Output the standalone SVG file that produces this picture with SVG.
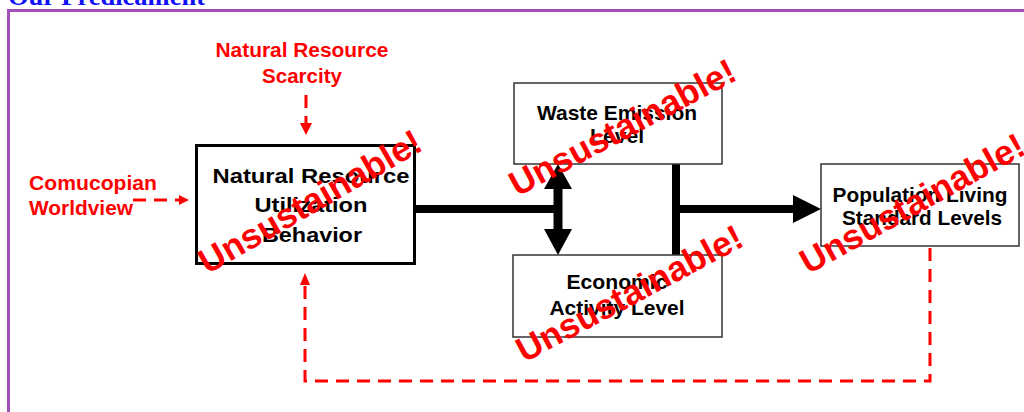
<svg xmlns="http://www.w3.org/2000/svg" width="1024" height="412" viewBox="0 0 1024 412">
<defs>
<style>
.box{fill:#fff;stroke:#333;stroke-width:1.5}
.lbl{font-family:"Liberation Sans",Arial,sans-serif;font-weight:bold;font-size:21px;fill:#000;text-anchor:middle}
.red{font-family:"Liberation Sans",Arial,sans-serif;font-weight:bold;font-size:20px;fill:#ff0000}
.uns{font-family:"Liberation Sans",Arial,sans-serif;font-weight:bold;font-size:35px;fill:#ff0000;text-anchor:middle}
.dash{fill:none;stroke:#ff0000;stroke-width:3;stroke-dasharray:13 8}
.thick{stroke:#000;fill:none}
</style>
</defs>
<rect width="1024" height="412" fill="#fff"/>
<text x="8" y="5" font-family="'Liberation Serif',serif" font-weight="bold" font-size="26" fill="#1010ff" textLength="197" lengthAdjust="spacingAndGlyphs">Our Predicament</text>
<rect x="8.5" y="10.5" width="1030" height="420" fill="none" stroke="#a050b8" stroke-width="3"/>

<g id="connectors">
<line class="thick" x1="415" y1="209" x2="559" y2="209" stroke-width="8"/>
<line class="thick" x1="558" y1="186" x2="558" y2="232" stroke-width="9"/>
<polygon points="558,164 544,189 572,189" fill="#000"/>
<polygon points="558,255 544,229 572,229" fill="#000"/>
<line class="thick" x1="676" y1="164" x2="676" y2="255" stroke-width="8"/>
<line class="thick" x1="676" y1="209" x2="796" y2="209" stroke-width="8"/>
<polygon points="821,209 793,195 793,223" fill="#000"/>
<line class="dash" x1="306" y1="95" x2="306" y2="124" stroke-dasharray="10 10"/>
<polygon points="306,135 300,123 312,123" fill="#ff0000"/>
<line class="dash" x1="133" y1="200" x2="180" y2="200" stroke-dasharray="15 10"/>
<polygon points="189,200 179,195 179,205" fill="#ff0000"/>
<path class="dash" d="M930,248 V381 H305 V284"/>
<polygon points="305,273 300,285 310,285" fill="#ff0000"/>
</g>

<g id="scarcity">
<text class="red" x="302" y="57" text-anchor="middle" textLength="173" lengthAdjust="spacingAndGlyphs">Natural Resource</text>
<text class="red" x="302" y="83" text-anchor="middle" textLength="80" lengthAdjust="spacingAndGlyphs">Scarcity</text>
</g>
<g id="cornucopian">
<text class="red" x="29" y="190" textLength="128" lengthAdjust="spacingAndGlyphs">Comucopian</text>
<text class="red" x="29" y="215" textLength="104" lengthAdjust="spacingAndGlyphs">Worldview</text>
</g>

<g id="behavior">
<rect x="196.5" y="145.5" width="218" height="118" fill="#fff" stroke="#000" stroke-width="3"/>
<text class="lbl" x="311" y="183" textLength="197" lengthAdjust="spacingAndGlyphs">Natural Resource</text>
<text class="lbl" x="311" y="212" textLength="113" lengthAdjust="spacingAndGlyphs">Utilization</text>
<text class="lbl" x="312" y="242" textLength="100" lengthAdjust="spacingAndGlyphs">Behavior</text>
</g>
<g id="waste">
<rect class="box" x="514" y="83" width="208" height="81"/>
<text class="lbl" x="617" y="120" textLength="160" lengthAdjust="spacingAndGlyphs">Waste Emission</text>
<text class="lbl" x="617" y="143" textLength="54" lengthAdjust="spacingAndGlyphs">Level</text>
</g>
<g id="economic">
<rect class="box" x="513" y="255" width="209" height="82"/>
<text class="lbl" x="617" y="289" textLength="101" lengthAdjust="spacingAndGlyphs">Economic</text>
<text class="lbl" x="617" y="315" textLength="135" lengthAdjust="spacingAndGlyphs">Activity Level</text>
</g>
<g id="population">
<rect class="box" x="821" y="164" width="198" height="82"/>
<text class="lbl" x="920" y="202" textLength="175" lengthAdjust="spacingAndGlyphs">Population Living</text>
<text class="lbl" x="922" y="225" textLength="160" lengthAdjust="spacingAndGlyphs">Standard Levels</text>
</g>

<g id="stamps">
<text class="uns" transform="translate(316,212) rotate(-30)">Unsustainable!</text>
<text class="uns" transform="translate(628,138) rotate(-28)">Unsustainable!</text>
<text class="uns" transform="translate(635,304) rotate(-28)">Unsustainable!</text>
<text class="uns" transform="translate(918,214) rotate(-29)">Unsustainable!</text>
</g>
</svg>
